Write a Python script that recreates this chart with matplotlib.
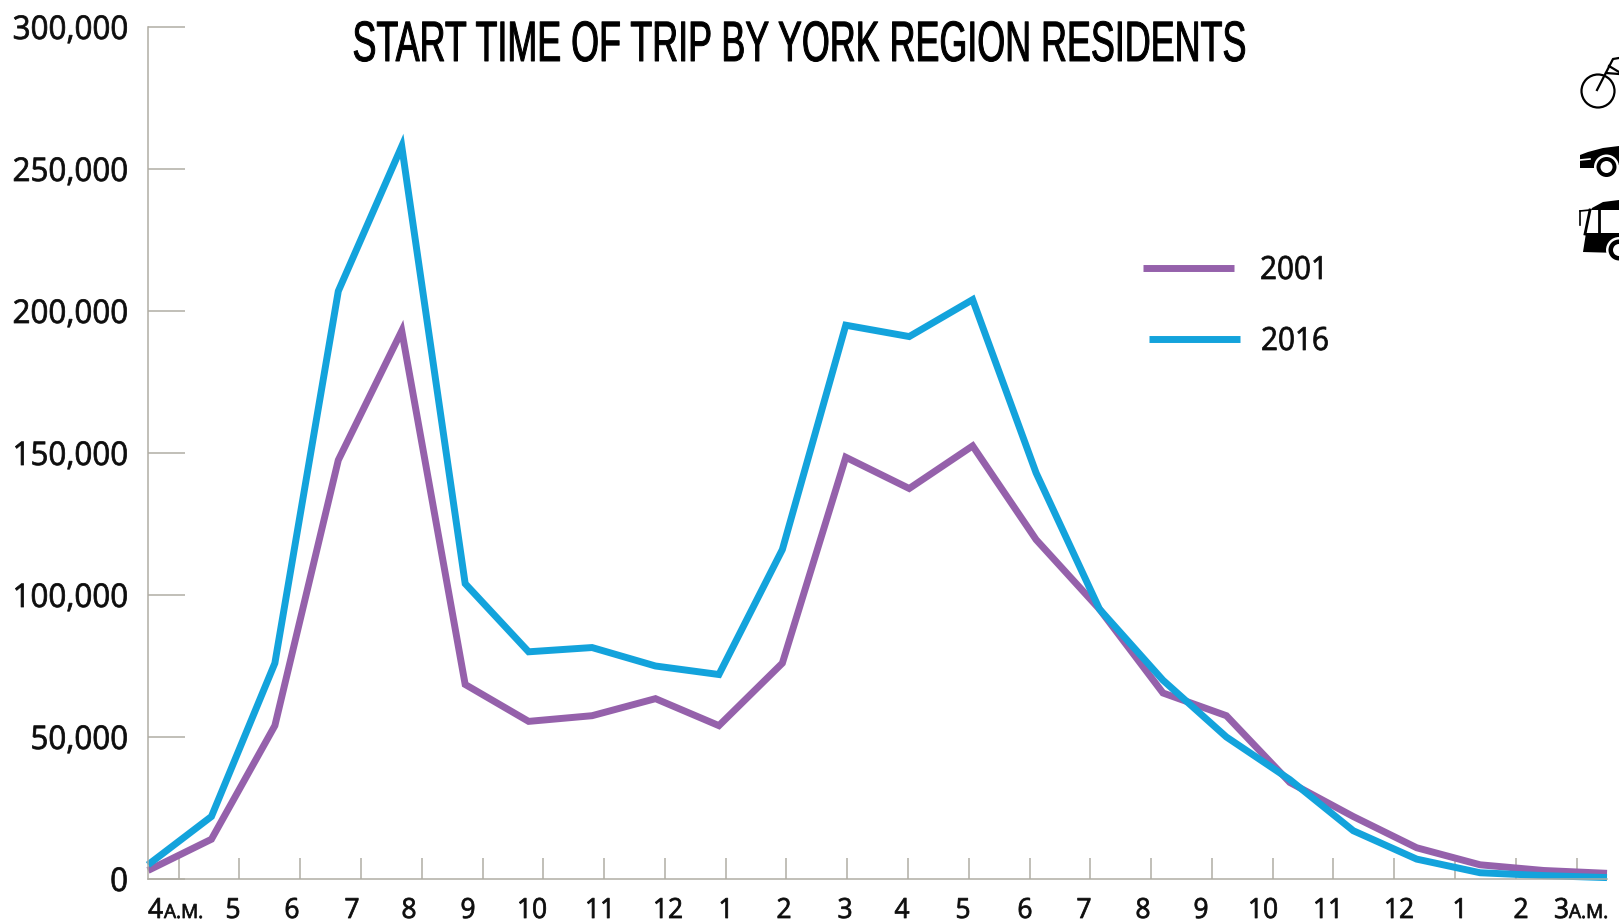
import numpy as np
import matplotlib
matplotlib.use("Agg")
import matplotlib.pyplot as plt
from matplotlib.patches import Circle, Polygon
from matplotlib.patheffects import AbstractPathEffect
from matplotlib.transforms import Affine2D

# valores
trips_2001 = [3000, 14000, 54000, 147500, 193000, 68500, 55500, 57500, 63500, 54000, 76000, 148500,
              137500, 152500, 119500, 95000, 65500, 57500, 34000, 22000, 11000, 5000, 3000, 2000]
trips_2016 = [5000, 22000, 76000, 207000, 258000, 104000, 80000, 81500, 75000, 72000, 116000, 195000,
              191000, 204000, 143000, 95000, 70000, 50000, 35000, 17000, 7000, 2200, 1200, 500]
hour_labels = ["5", "6", "7", "8", "9", "10", "11", "12", "1", "2", "3", "4", "5",
               "6", "7", "8", "9", "10", "11", "12", "1", "2"]
y_ticks = [0, 50000, 100000, 150000, 200000, 250000, 300000]

W, H = 1619, 923
GREY = "#b0ada4"
PURPLE = "#9561ab"
BLUE = "#13a3dc"
INK = "#0d0d0d"
SANS = ["Open Sans", "Noto Sans", "DejaVu Sans"]


class Squeeze(AbstractPathEffect):
    # estrecha el texto en horizontal y lo engorda un poco, no hay fuentes condensadas instaladas
    def __init__(self, anchor, sx, stroke=0.0):
        super().__init__()
        self.anchor = anchor
        self.sx = sx
        self.stroke = stroke

    def draw_path(self, renderer, gc, tpath, affine, rgbFace=None):
        squeeze = Affine2D().translate(-self.anchor, 0).scale(self.sx, 1).translate(self.anchor, 0)
        gc0 = renderer.new_gc()
        gc0.copy_properties(gc)
        gc0.set_linewidth(self.stroke)
        gc0.set_foreground(rgbFace)
        renderer.draw_path(gc0, tpath, affine + squeeze, rgbFace)
        gc0.restore()


fig = plt.figure(figsize=(W / 100, H / 100), dpi=100)

# ejes principales, el cero queda en y=879 y 300,000 en y=27
ax = fig.add_axes([148 / W, 1 - 879 / H, (1607 - 148) / W, (879 - 27) / H])
x = np.arange(len(trips_2001))
ax.plot(x, trips_2001, color=PURPLE, lw=5, solid_joinstyle="miter", solid_capstyle="butt", clip_on=False)
ax.plot(x, trips_2016, color=BLUE, lw=5, solid_joinstyle="miter", solid_capstyle="butt", clip_on=False)
ax.set_xlim(0, 23)
ax.set_ylim(0, 300000)

for s in ["top", "right"]:
    ax.spines[s].set_visible(False)
for s in ["left", "bottom"]:
    ax.spines[s].set_color(GREY)
    ax.spines[s].set_linewidth(1.1)

# las marcas no coinciden con los puntos de datos
ax.set_xticks(np.linspace(0.484, 22.52, 24))
ax.set_xticklabels([])
ax.tick_params(axis="x", direction="in", length=15, width=1.1, color=GREY)
ax.set_yticks(y_ticks)
ax.set_yticklabels([])
ax.tick_params(axis="y", direction="in", length=26.5, width=1.1, color=GREY)

# capa en pixeles para textos e iconos
over = fig.add_axes([0, 0, 1, 1])
over.set_xlim(0, W)
over.set_ylim(H, 0)
over.axis("off")
over.patch.set_alpha(0)


def label(px, py, s, size, sx=0.95, ha="left", stroke=0.55, anchor=None, **kw):
    t = over.text(px, py, s, ha=ha, va="baseline", fontsize=size, family=kw.pop("family", SANS),
                  color=kw.pop("color", INK), **kw)
    t.set_path_effects([Squeeze(px if anchor is None else anchor, sx, stroke)])
    return t


for v in y_ticks:
    py = 879 - v / 300000 * 852
    label(128, py + 12, f"{v:,}", 23.5, sx=0.96, ha="right")

label_x = [233, 292, 352, 409, 468, 532, 600, 668, 726, 784, 845, 902, 963, 1025, 1084, 1143, 1201,
           1263, 1328, 1399, 1460, 1521]
for lx, lab in zip(label_x, hour_labels):
    label(lx, 918, lab, 20, ha="center")
label(148, 918, "4", 20)
label(164, 918, "A.M.", 14, sx=0.98)
label(1554, 918, "3", 20)
label(1569, 918, "A.M.", 14, sx=0.98)

# el texto sin estrechar cabe entre 300,000 y los iconos, el ancla lo lleva a su sitio
title_sx = 0.63
title_anchor = (799.5 - title_sx * 845) / (1 - title_sx)
label(845, 61, "START TIME OF TRIP BY YORK REGION RESIDENTS", 41, sx=title_sx, ha="center",
      stroke=0.7, anchor=title_anchor, family=["Liberation Sans"], color="black")

# leyenda
over.plot([1143, 1234], [268, 268], color=PURPLE, lw=5, solid_capstyle="butt")
over.plot([1149, 1240], [339, 339], color=BLUE, lw=5, solid_capstyle="butt")
label(1260, 279, "2001", 23, sx=0.93)
label(1261, 350, "2016", 23, sx=0.93)

# iconos cortados por el borde derecho
# bici
over.add_patch(Circle((1598, 91), 16.5, fill=False, ec="black", lw=1.6))
over.plot([1597, 1613, 1619], [90, 59, 58], color="black", lw=1.6)
over.plot([1609, 1619], [66, 72], color="black", lw=1.6)
over.plot([1606, 1619], [73, 74], color="black", lw=1.6)
# coche
over.add_patch(Polygon([(1580, 155), (1588, 152), (1603, 148), (1619, 146), (1619, 165), (1597, 168), (1580, 168)],
                       closed=True, fc="black", ec="none"))
over.plot([1580, 1590], [160, 159], color="white", lw=1.2)
over.add_patch(Circle((1606.5, 167), 12.5, fc="white", ec="none"))
over.add_patch(Circle((1606.5, 167), 10, fc="black", ec="none"))
over.add_patch(Circle((1606.5, 167), 6, fc="white", ec="none"))
# autobus
over.add_patch(Polygon([(1591, 210), (1592, 208), (1603, 202), (1619, 200), (1619, 210)],
                       closed=True, fc="black", ec="none"))
over.add_patch(Polygon([(1586, 233), (1619, 233), (1619, 253), (1583, 252)], closed=True, fc="black", ec="none"))
over.plot([1590, 1585], [210, 234], color="black", lw=2)
over.plot([1599, 1599], [209, 234], color="black", lw=2)
over.plot([1580, 1590], [211, 210], color="black", lw=1.2)
over.plot([1580, 1580], [211, 225], color="black", lw=1.2)
over.add_patch(Circle((1619, 250), 13, fc="white", ec="none"))
over.add_patch(Circle((1619, 250), 10.5, fc="black", ec="none"))
over.add_patch(Circle((1619, 250), 6, fc="white", ec="none"))
plt.savefig("out.png", dpi=100)
